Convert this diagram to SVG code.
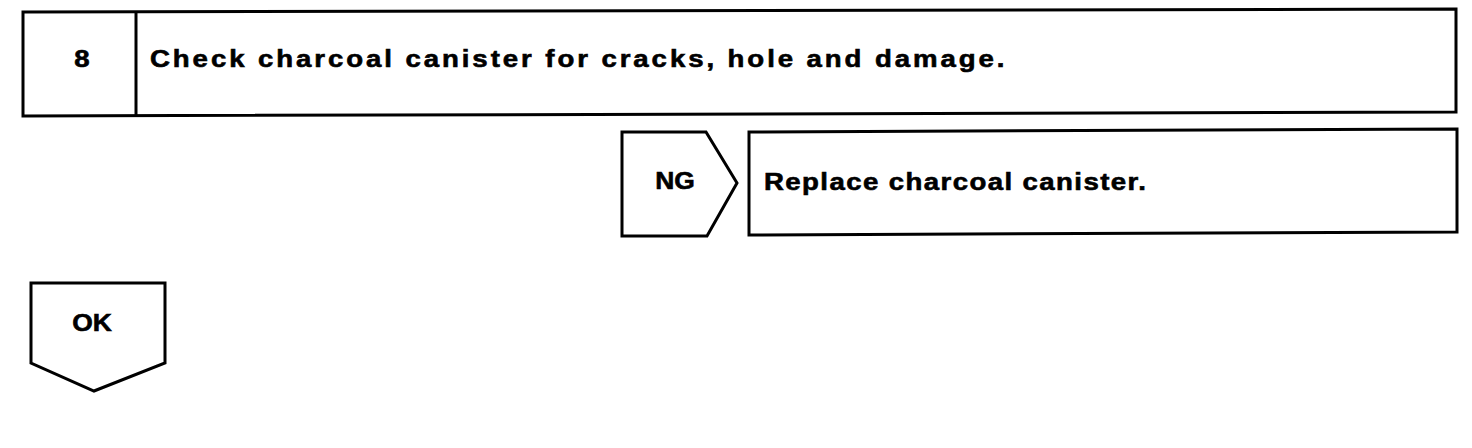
<svg xmlns="http://www.w3.org/2000/svg" width="1472" height="448" viewBox="0 0 1472 448">
<style>
.b{fill:none;stroke:#000;stroke-width:3;stroke-linejoin:miter}
.t{font-family:"Liberation Sans",Arial,sans-serif;font-weight:bold;font-size:24px;fill:#000;stroke:#000;stroke-width:0.6}
</style>
<rect width="1472" height="448" fill="#fff"/>
<g id="step8">
<path class="b" d="M23,12 L1456,9 L1456,112 L23,116 Z"/>
<line class="b" x1="136" y1="12" x2="136" y2="116"/>
<text class="t" transform="translate(82,67) scale(1.15,1)" text-anchor="middle">8</text>
<text class="t" transform="translate(150,67) scale(1.15,1)" textLength="743" lengthAdjust="spacing">Check charcoal canister for cracks, hole and damage.</text>
</g>
<g id="ng">
<path class="b" d="M622,132 H706 L737,183 L707,236 H622 Z"/>
<text class="t" transform="translate(675,189) scale(1.1,1)" text-anchor="middle">NG</text>
</g>
<g id="replace">
<path class="b" d="M749,132 L1457,129 L1457,232 L749,235 Z"/>
<text class="t" transform="translate(764,190) scale(1.15,1)" textLength="332" lengthAdjust="spacing">Replace charcoal canister.</text>
</g>
<g id="ok">
<path class="b" d="M31,283 H165 V363 L94,391 L31,363 Z"/>
<text class="t" transform="translate(92,331) scale(1.1,1)" text-anchor="middle">OK</text>
</g>
<g id="connectors"></g>
</svg>
